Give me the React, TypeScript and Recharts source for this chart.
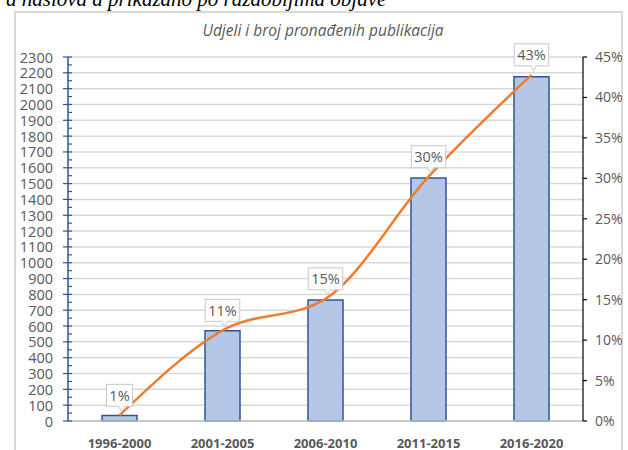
import { ComposedChart, Bar, Line, XAxis, YAxis, CartesianGrid, LabelList } from "recharts";

const categories = ["1996-2000", "2001-2005", "2006-2010", "2011-2015", "2016-2020"];
const publicationCounts = [35, 570, 765, 1535, 2175];
const shares = [0.007, 0.112, 0.151, 0.302, 0.428];
const countTicks = [
  0, 100, 200, 300, 400, 500, 600, 700, 800, 900, 1000, 1100, 1200, 1300, 1400, 1500, 1600, 1700, 1800,
  1900, 2000, 2100, 2200, 2300,
];
const shareTicks = [0, 0.05, 0.1, 0.15, 0.2, 0.25, 0.3, 0.35, 0.4, 0.45];

const data = categories.map((name, i) => ({ name, count: publicationCounts[i], share: shares[i] }));
// minor ticks halfway between the major ones
const allCountTicks = [...countTicks, ...countTicks.slice(1).map((v) => v - 50)].sort((a, b) => a - b);

const FONT = "'Open Sans', sans-serif";
const GREY_TEXT = "#595959";
const AXIS_BLUE = "#2F5597";

function CountTick(props: any) {
  const { x, y, payload } = props;
  const major = payload.value % 100 === 0;
  if (!major) {
    return <line x1={x} x2={x + 4} y1={y} y2={y} stroke={AXIS_BLUE} strokeWidth={1.2} />;
  }
  return (
    <g>
      <line x1={x - 5} x2={x + 4} y1={y} y2={y} stroke={AXIS_BLUE} strokeWidth={1.2} />
      <text x={x - 15} y={y} textAnchor="end" dominantBaseline="central" fontSize={14.5} fill={GREY_TEXT} fontFamily={FONT}>
        {payload.value}
      </text>
    </g>
  );
}

function ShareLabel(props: any) {
  const { x, y, value } = props;
  const text = `${Math.round(value * 100)}%`;
  const w = 8.5 * text.length + 9;
  const top = y - 31;
  const bottom = y - 9;
  return (
    <g>
      <rect x={x - w / 2} y={top} width={w} height={22} fill="#fff" stroke="#c8c8c8" strokeWidth={1} />
      <polygon points={`${x - 1},${bottom - 0.5} ${x + 5},${bottom - 0.5} ${x + 2},${y - 4}`} fill="#fff" />
      <polyline points={`${x - 1},${bottom} ${x + 2},${y - 4} ${x + 5},${bottom}`} fill="none" stroke="#c8c8c8" strokeWidth={1} />
      <text x={x} y={top + 11} textAnchor="middle" dominantBaseline="central" fontSize={14.5} fill={GREY_TEXT} fontFamily={FONT}>
        {text}
      </text>
    </g>
  );
}

export default function App() {
  return (
    <div style={{ position: "absolute", left: 0, top: 0, width: 628, height: 450, overflow: "hidden", background: "#fff" }}>
      <div
        style={{
          position: "absolute",
          left: 6,
          top: -11,
          fontFamily: "'Liberation Serif', serif",
          fontStyle: "italic",
          fontSize: 21,
          lineHeight: "21px",
          whiteSpace: "nowrap",
          color: "#000",
        }}
      >
        a naslova a prikazano po razdobljima objave
      </div>
      <div
        style={{
          position: "absolute",
          left: 14,
          top: 11,
          width: 609,
          height: 460,
          border: "2px solid #d9d9d9",
          boxSizing: "border-box",
        }}
      />
      <div
        style={{
          position: "absolute",
          left: 0,
          width: 646,
          top: 19,
          textAlign: "center",
          fontFamily: FONT,
          fontStyle: "italic",
          fontSize: 15.5,
          color: GREY_TEXT,
        }}
      >
        Udjeli i broj pronađenih publikacija
      </div>
      <div style={{ position: "absolute", left: 0, top: 0 }}>
        <ComposedChart width={628} height={450} data={data} margin={{ top: 57, right: 0, bottom: 0, left: 0 }}>
          <CartesianGrid yAxisId="left" vertical={false} horizontalValues={countTicks} stroke="#d9d9d9" strokeWidth={1.5} />
          <XAxis
            dataKey="name"
            height={29}
            tickLine={false}
            tickMargin={12}
            axisLine={{ stroke: "#bfbfbf", strokeWidth: 1.5 }}
            tick={{ fontSize: 13, fontWeight: 700, fill: GREY_TEXT, fontFamily: FONT }}
          />
          <YAxis
            yAxisId="left"
            width={68}
            domain={[0, 2300]}
            ticks={allCountTicks}
            interval={0}
            tickSize={0}
            tickMargin={0}
            tickLine={false}
            axisLine={{ stroke: AXIS_BLUE, strokeWidth: 1.5 }}
            tick={<CountTick />}
          />
          <YAxis
            yAxisId="right"
            orientation="right"
            width={45}
            domain={[0, 0.45]}
            ticks={shareTicks}
            interval={0}
            tickSize={4}
            tickMargin={8}
            axisLine={{ stroke: "#000", strokeWidth: 1.2 }}
            tickLine={{ stroke: "#000", strokeWidth: 1.2 }}
            tickFormatter={(v: number) => `${Math.round(v * 100)}%`}
            tick={{ fontSize: 14, fill: GREY_TEXT, fontFamily: FONT, textAnchor: "start" }}
          />
          <Bar
            yAxisId="left"
            dataKey="count"
            barSize={35}
            fill="#B4C7E7"
            stroke={AXIS_BLUE}
            strokeWidth={1.5}
            isAnimationActive={false}
          />
          <Line
            yAxisId="right"
            type="monotone"
            dataKey="share"
            stroke="#ED7D31"
            strokeWidth={2.5}
            dot={false}
            isAnimationActive={false}
          >
            <LabelList dataKey="share" content={<ShareLabel />} />
          </Line>
        </ComposedChart>
      </div>
    </div>
  );
}
